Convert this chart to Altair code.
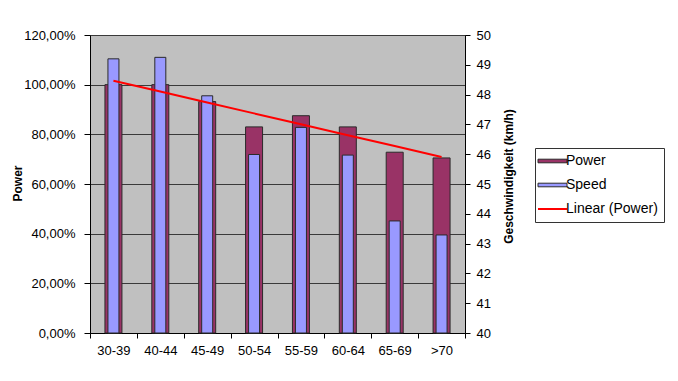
import altair as alt
import pandas as pd
import numpy as np

categories = ["30-39", "40-44", "45-49", "50-54", "55-59", "60-64", "65-69", ">70"]
power = [1.00, 1.00, 0.932, 0.83, 0.875, 0.83, 0.728, 0.705]
speed = [49.2, 49.25, 47.96, 45.99, 46.9, 45.97, 43.76, 43.29]

series_names = ["Power", "Speed", "Linear (Power)"]
fill_colors = ["#993366", "#9999FF", "transparent"]
stroke_colors = ["#2a2a2a", "#2a2a2a", "#FF0000"]

# linear trend of the power series (as Excel's "Linear (Power)")
xs = np.arange(1, len(power) + 1)
slope, intercept = np.polyfit(xs, power, 1)
trend = list(intercept + slope * xs)

df_p = pd.DataFrame({"cat": categories, "value": power, "series": "Power"})
df_s = pd.DataFrame({"cat": categories, "value": speed, "series": "Speed"})
df_t = pd.DataFrame({"cat": categories, "value": trend, "series": "Linear (Power)"})

FONT = "Liberation Sans"

x_enc = alt.X(
    "cat:N",
    sort=categories,
    scale=alt.Scale(paddingInner=0, paddingOuter=0),
    axis=alt.Axis(title=None, tickBand="extent", labelAngle=0, tickSize=5,
                  labelPadding=6, domainColor="black", tickColor="black",
                  labelColor="black", labelFontSize=13, labelFont=FONT, grid=False),
)

legend = alt.Legend(
    title=None,
    orient="none",
    legendX=445,
    legendY=113,
    direction="vertical",
    symbolType={"expr": "datum.value === 'Linear (Power)' ? 'M-1,0H1.9' : 'M-1,-0.18H1.9V0.18H-1Z'"},
    symbolSize=400,
    symbolStrokeWidth={"expr": "datum.value === 'Linear (Power)' ? 2 : 1"},
    labelFontSize=14,
    labelFont=FONT,
    labelColor="black",
    labelOffset=11,
    rowPadding=10,
    padding=6,
    strokeColor="#333333",
    fillColor="white",
)

fill_enc = alt.Fill("series:N", scale=alt.Scale(domain=series_names, range=fill_colors), legend=legend)
stroke_enc = alt.Stroke("series:N", scale=alt.Scale(domain=series_names, range=stroke_colors), legend=legend)

power_bars = alt.Chart(df_p).mark_bar(size=17, strokeWidth=1).encode(
    x=x_enc,
    y=alt.Y("value:Q",
            scale=alt.Scale(domain=[0, 1.2], nice=False),
            axis=alt.Axis(
                title="Power", values=[0, 0.2, 0.4, 0.6, 0.8, 1.0, 1.2],
                labelExpr="replace(format(datum.value * 100, '.2f'), '.', ',') + '%'",
                grid=True, gridColor="#3a3a3a", gridWidth=1,
                tickSize=6, labelPadding=9, domainColor="black", tickColor="black",
                labelColor="black", labelFontSize=13, labelFont=FONT,
                titleFont=FONT, titleFontSize=12, titleFontWeight="bold", titleColor="black",
                titleAngle=-90, titleBaseline="bottom", titleX=-66, titleY=148)),
    fill=fill_enc,
    stroke=stroke_enc,
)

speed_bars = alt.Chart(df_s).mark_bar(size=11, strokeWidth=1).encode(
    x=x_enc,
    y=alt.Y("value:Q",
            scale=alt.Scale(domain=[40, 50], zero=False, nice=False),
            axis=alt.Axis(
                orient="right", title="Geschwindigkeit (km/h)", values=list(range(40, 51)),
                grid=False, tickSize=5, labelPadding=6, domainColor="black", tickColor="black",
                labelColor="black", labelFontSize=13, labelFont=FONT,
                titleFont=FONT, titleFontSize=12, titleFontWeight="bold", titleColor="black",
                titleAngle=-90, titleBaseline="bottom", titleX=50, titleY=141)),
    y2=alt.datum(40),
    fill=fill_enc,
    stroke=stroke_enc,
)

trend_line = alt.Chart(df_t).mark_line(strokeWidth=2).encode(
    x=x_enc,
    y=alt.Y("value:Q", scale=alt.Scale(domain=[0, 1.2], nice=False), axis=None),
    stroke=stroke_enc,
)

chart = alt.layer(power_bars, speed_bars, trend_line).resolve_scale(
    y="independent"
).properties(
    width=375,
    height=298,
    autosize=alt.AutoSizeParams(type="none"),
    padding={"left": 82, "top": 27, "right": 203, "bottom": 40},
    background="white",
).configure_view(
    fill="#C0C0C0",
    stroke="#808080",
)

chart.save("out.html", embed_options={"renderer": "svg", "actions": False})
